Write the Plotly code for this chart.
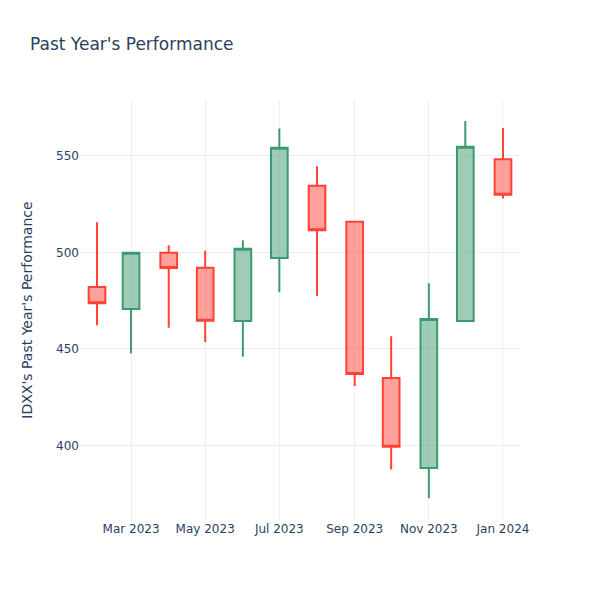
import plotly.graph_objects as go

dates = ["2023-02-01", "2023-03-01", "2023-04-01", "2023-05-01", "2023-06-01", "2023-07-01",
         "2023-08-01", "2023-09-01", "2023-10-01", "2023-11-01", "2023-12-01", "2024-01-01"]
open_ = [482.0, 470.7, 499.8, 492.0, 464.5, 497.1, 534.4, 515.8, 435.0, 388.4, 464.5, 548.1]
high = [515.5, 500.0, 503.6, 500.8, 506.2, 564.1, 544.5, 515.8, 456.6, 484.0, 567.9, 564.3]
low = [462.2, 447.8, 461.0, 453.6, 446.0, 479.3, 477.4, 430.8, 387.6, 372.8, 464.5, 527.9]
close = [473.6, 499.8, 491.9, 464.6, 501.9, 554.1, 511.4, 437.1, 399.4, 465.5, 554.6, 529.8]

fig = go.Figure(go.Candlestick(x=dates, open=open_, high=high, low=low, close=close))
fig.update_layout(
    template="plotly_white",
    width=600, height=600,
    font=dict(family="DejaVu Sans"),
    title=dict(text="Past Year's Performance", x=22 / 600, xanchor="left",
               y=1 - 36 / 600, yanchor="middle", yref="container"),
    yaxis=dict(title=dict(text="IDXX's Past Year's Performance", standoff=20),
               range=[361.5, 578.8]),
    xaxis_rangeslider_visible=False,
    margin=dict(l=72, r=88, t=92, b=88, autoexpand=False),
)
fig.write_html("out.html")
